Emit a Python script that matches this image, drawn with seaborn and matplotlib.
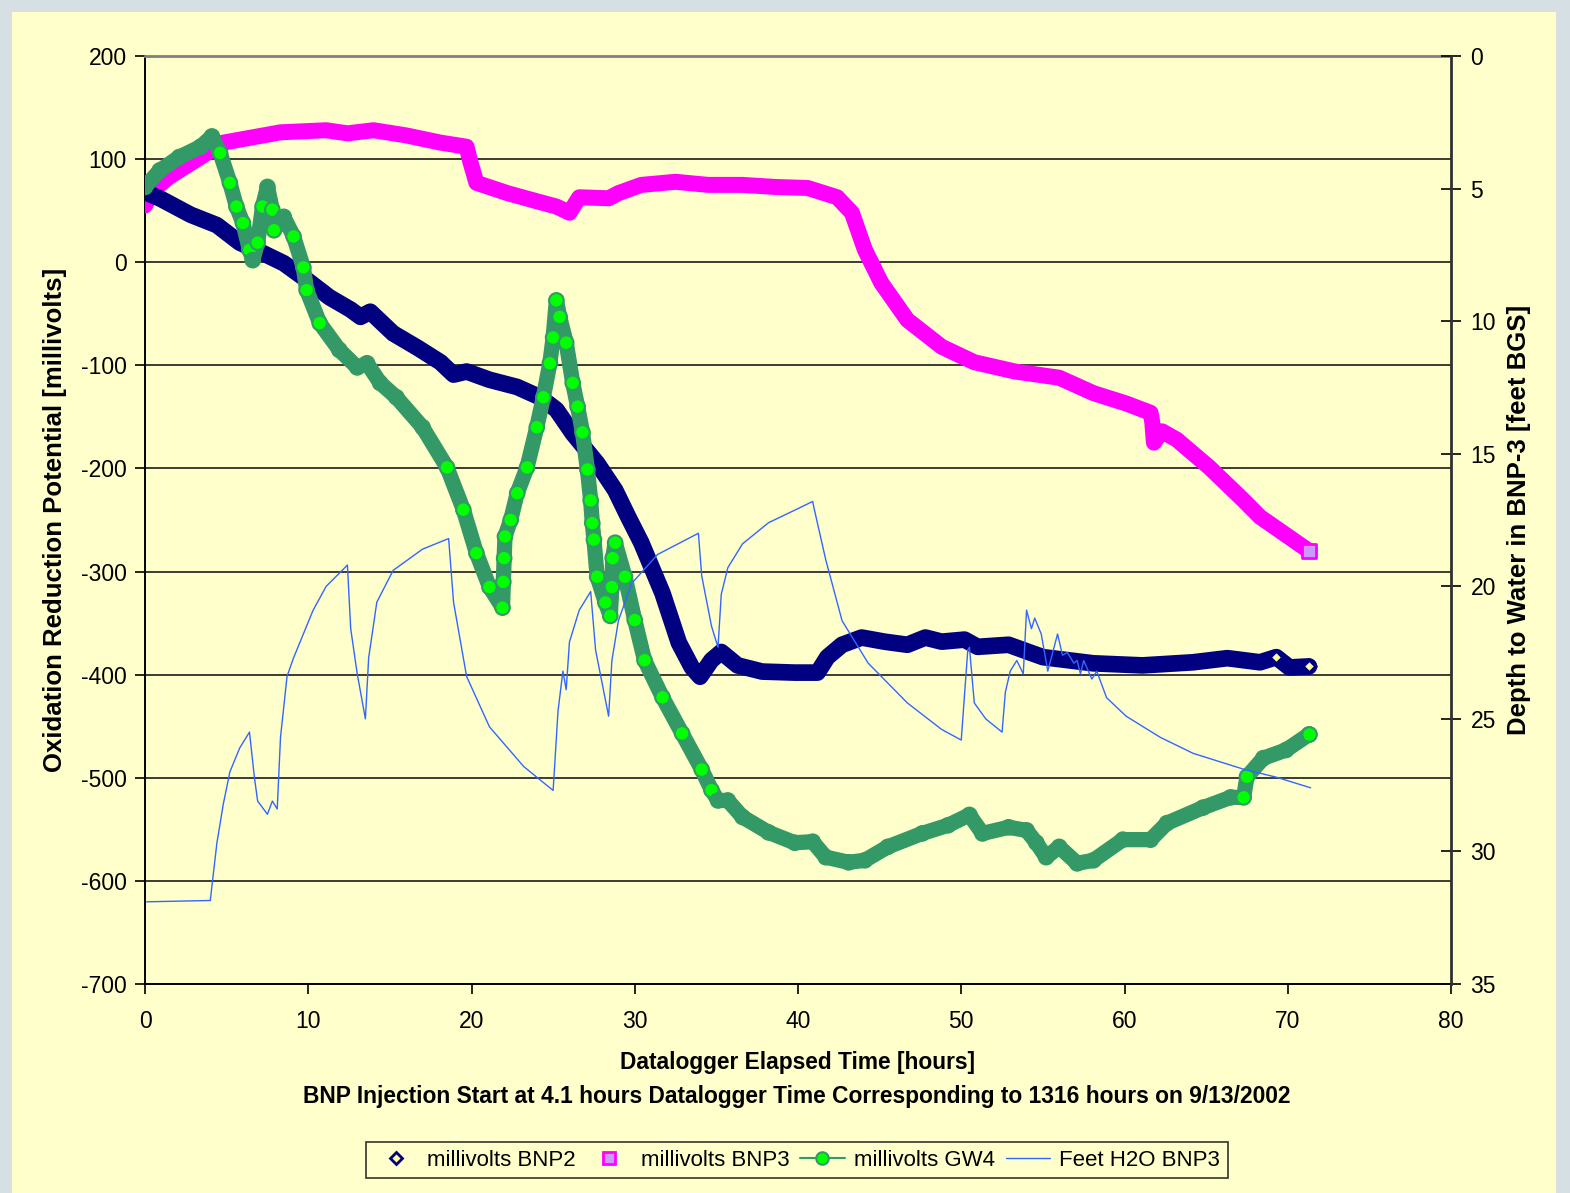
import numpy as np
import pandas as pd
import matplotlib
matplotlib.use("Agg")
import matplotlib.pyplot as plt
from matplotlib.lines import Line2D
from matplotlib.patches import Rectangle
import seaborn as sns

# ===============================
# Data
# ===============================
bnp2_hours = [0, 0.9, 2.8, 4.4, 5.8, 7.2, 8.5, 9.9, 11.3, 12.6, 13.2, 13.8, 15.2, 16.7,
              18.1, 18.9, 19.7, 21.1, 22.8, 24.2, 25.2, 26.2, 27.7, 28.8, 29.6, 30.4,
              31.7, 32.7, 33.5, 34.0, 34.7, 35.3, 36.3, 37.8, 39.8, 41.2, 41.8, 42.7,
              43.9, 45.3, 46.7, 47.8, 48.8, 50.2, 51.0, 52.9, 55.0, 58.1, 61.1, 64.2,
              66.3, 68.3, 69.3, 70.1, 71.3]
bnp2_mv = [68, 62, 46, 36, 19, 9, -1, -17, -34, -46, -53, -48, -69, -83,
           -97, -109, -106, -114, -121, -131, -143, -166, -195, -221, -247, -272,
           -321, -369, -393, -402, -386, -378, -391, -397, -398, -398, -383, -371,
           -364, -368, -371, -364, -368, -366, -373, -371, -383, -389, -391, -388,
           -384, -388, -383, -393, -392]

bnp3_hours = [0, 0.5, 1.5, 2.8, 3.8, 4.8, 6.2, 8.3, 11.1, 12.4, 14.0, 16.0, 18.1, 19.7,
              19.9, 20.3, 22.2, 23.8, 25.2, 26.0, 26.6, 28.4, 29.0, 30.4, 32.5, 34.5,
              36.6, 38.6, 40.6, 42.4, 43.3, 44.1, 45.1, 46.7, 48.8, 50.8, 53.3, 56.0,
              58.1, 60.1, 61.6, 61.7, 61.8, 62.3, 63.2, 65.2, 67.3, 68.3, 70.3, 71.3]
bnp3_mv = [55, 70, 83, 96, 106, 116, 120, 126, 128, 125, 128, 123, 116, 112,
           99, 77, 67, 60, 54, 48, 63, 62, 67, 75, 78, 75,
           75, 73, 72, 63, 48, 12, -20, -56, -82, -97, -106, -112,
           -127, -137, -146, -155, -175, -164, -172, -199, -231, -247, -269, -280]

gw4_hours = [0, 0.9, 2.1, 3.4, 4.1, 4.6, 5.2, 5.6, 6.0, 6.4, 6.6, 6.9, 7.2, 7.5, 7.8,
             7.9, 8.5, 9.1, 9.7, 9.9, 10.7, 11.9, 13.0, 13.6, 14.4, 15.4, 17.0, 18.5,
             19.5, 20.3, 21.1, 21.9, 21.95, 22.0, 22.05, 22.4, 22.8, 23.4, 24.0, 24.4,
             24.8, 25.0, 25.2, 25.4, 25.8, 26.2, 26.5, 26.8, 27.1, 27.3, 27.4, 27.5,
             27.7, 28.2, 28.5, 28.6, 28.65, 28.8, 29.4, 30.0, 30.6, 31.7, 32.9, 34.1,
             34.7, 35.1, 35.7, 36.6, 38.2, 39.8, 40.9, 41.7, 43.1, 44.1, 45.5, 47.6,
             49.2, 50.5, 51.3, 52.9, 54.0, 54.6, 55.2, 56.0, 57.1, 58.1, 59.9, 61.6,
             62.6, 64.8, 66.5, 67.3, 67.5, 68.5, 69.9, 71.3]
gw4_mv = [73, 89, 102, 112, 122, 106, 77, 54, 38, 12, 2, 19, 54, 73, 51,
          31, 44, 25, -5, -27, -59, -85, -102, -98, -117, -131, -160, -199,
          -240, -282, -315, -335, -310, -287, -266, -250, -224, -199, -160, -131,
          -98, -73, -37, -53, -78, -117, -140, -165, -201, -231, -253, -269,
          -305, -330, -343, -315, -287, -272, -305, -347, -386, -422, -457, -492,
          -512, -522, -522, -538, -553, -563, -562, -577, -582, -580, -567, -554,
          -546, -536, -554, -548, -551, -563, -577, -567, -583, -580, -560, -560,
          -544, -529, -519, -519, -499, -481, -473, -458]

h2o_hours = [0.1, 4.0, 4.4, 4.8, 5.2, 5.8, 6.4, 6.7, 6.9, 7.5, 7.8, 8.1, 8.3, 8.7, 9.1,
             10.3, 11.1, 12.4, 12.6, 13.0, 13.5, 13.7, 14.2, 15.2, 17.0, 18.6, 18.9,
             19.7, 21.1, 23.2, 25.0, 25.3, 25.6, 25.8, 26.0, 26.6, 27.3, 27.6, 28.4,
             28.6, 29.0, 29.8, 31.4, 33.9, 34.1, 34.7, 35.1, 35.3, 35.7, 36.6, 38.2,
             39.9, 40.9, 41.0, 41.7, 42.7, 44.3, 46.7, 48.8, 50.0, 50.4, 50.5, 50.8,
             51.5, 52.5, 52.7, 53.0, 53.4, 53.8, 54.0, 54.3, 54.5, 54.9, 55.3, 55.6,
             55.9, 56.2, 56.5, 56.9, 57.1, 57.3, 57.5, 58.0, 58.3, 58.9, 60.1, 62.2,
             64.2, 67.3, 69.3, 71.4]
h2o_feet = [31.9, 31.85, 29.7, 28.2, 27.0, 26.1, 25.5, 27.2, 28.1, 28.6, 28.1, 28.4,
            25.7, 23.4, 22.7, 20.9, 20.0, 19.2, 21.6, 23.3, 25.0, 22.7, 20.6, 19.4,
            18.6, 18.2, 20.6, 23.4, 25.3, 26.8, 27.7, 24.7, 23.2, 23.9, 22.1, 20.9,
            20.2, 22.4, 24.9, 22.8, 21.3, 19.9, 18.8, 18.0, 19.6, 21.5, 22.3, 20.3,
            19.3, 18.4, 17.6, 17.1, 16.8, 17.1, 19.0, 21.3, 22.9, 24.4, 25.4, 25.8,
            22.4, 22.3, 24.4, 25.0, 25.5, 24.0, 23.2, 22.8, 23.3, 20.9, 21.6, 21.2,
            21.8, 23.2, 22.5, 21.8, 22.6, 22.5, 22.9, 22.8, 23.3, 22.8, 23.5, 23.2,
            24.2, 24.9, 25.7, 26.3, 26.9, 27.2, 27.6]

x_ticks = [0, 10, 20, 30, 40, 50, 60, 70, 80]
mv_ticks = [200, 100, 0, -100, -200, -300, -400, -500, -600, -700]
feet_ticks = [0, 5, 10, 15, 20, 25, 30, 35]

# ===============================
# Style
# ===============================
YELLOW = "#FFFFCC"
FRAME = "#D5DFE4"
NAVY = "#000080"
DIAMOND_FACE = "#FFFF99"
MAGENTA = "#FF00FF"
LAVENDER = "#CC99FF"
GREEN = "#00FF00"
SEA = "#339966"
BLUE = "#3366FF"

sns.set_theme(style="white")
plt.rcParams.update({
    "font.family": ["Liberation Sans", "DejaVu Sans"],
    "axes.unicode_minus": False,
    "text.color": "black",
    "axes.labelcolor": "black",
    "xtick.color": "black",
    "ytick.color": "black",
})

fig = plt.figure(figsize=(15.7, 11.93), dpi=100, facecolor=FRAME)
fig.patches.append(Rectangle((12 / 1570, 0), 1544 / 1570, 1 - 12 / 1193,
                             transform=fig.transFigure, facecolor=YELLOW,
                             edgecolor="none", zorder=-5))

ax = fig.add_axes([145 / 1570, 1 - 984 / 1193, 1306 / 1570, 928 / 1193])
ax.set_facecolor(YELLOW)

bnp2 = pd.DataFrame({"hours": bnp2_hours, "mv": bnp2_mv})
bnp3 = pd.DataFrame({"hours": bnp3_hours, "mv": bnp3_mv})
gw4 = pd.DataFrame({"hours": gw4_hours, "mv": gw4_mv})
h2o = pd.DataFrame({"hours": h2o_hours, "feet": h2o_feet})

# where the logger trace moves fast the single GW4 dots stay visible,
# where it is slow they pile up into a dark band
rate = np.abs(np.gradient(gw4["mv"].to_numpy(), gw4["hours"].to_numpy()))
gw4["face"] = np.where(rate > 28, "fast", "slow")

band = dict(sort=False, estimator=None, legend=False,
            solid_capstyle="round", solid_joinstyle="round")
sns.lineplot(data=bnp3, x="hours", y="mv", ax=ax, color=MAGENTA, lw=11.5, zorder=3, **band)
sns.lineplot(data=bnp2, x="hours", y="mv", ax=ax, color=NAVY, lw=12, zorder=4, **band)
sns.lineplot(data=gw4, x="hours", y="mv", ax=ax, color=SEA, lw=11, zorder=5, **band)

sns.scatterplot(data=bnp3.iloc[[-1]], x="hours", y="mv", ax=ax, marker="s", s=90,
                color=LAVENDER, edgecolor=MAGENTA, linewidth=2, zorder=6, legend=False)
sns.scatterplot(data=bnp2.iloc[[-3, -1]], x="hours", y="mv", ax=ax, marker="D", s=45,
                color=DIAMOND_FACE, edgecolor=NAVY, linewidth=2.4, zorder=6, legend=False)
sns.scatterplot(data=gw4, x="hours", y="mv", hue="face", ax=ax, marker="o", s=110,
                palette={"fast": GREEN, "slow": SEA}, edgecolor=SEA, linewidth=1.5,
                zorder=7, legend=False)
sns.scatterplot(data=gw4.iloc[[-1]], x="hours", y="mv", ax=ax, marker="o", s=110,
                color=GREEN, edgecolor=SEA, linewidth=1.5, zorder=8, legend=False)

ax.set_xlim(0, 80)
ax.set_ylim(-700, 200)
ax.set_xticks(x_ticks)
ax.set_yticks(mv_ticks)
ax.yaxis.grid(True, color="#1A1A1A", lw=1.2)
ax.xaxis.grid(False)
ax.set_axisbelow(True)
ax.tick_params(axis="both", direction="out", length=7, width=1.2, colors="black",
               labelsize=16.5, left=True, bottom=True)
ax.tick_params(axis="x", pad=12)
ax.tick_params(axis="y", pad=6)
for side in ["left", "bottom"]:
    ax.spines[side].set_color("black")
    ax.spines[side].set_linewidth(1.4)
ax.spines["top"].set_color("#808080")
ax.spines["top"].set_linewidth(2)
ax.spines["right"].set_visible(False)
ax.set_xlabel("")
ax.set_ylabel("Oxidation Reduction Potential [millivolts]", fontsize=18.5,
              fontweight="bold", labelpad=10)

ax2 = ax.twinx()
sns.lineplot(data=h2o, x="hours", y="feet", ax=ax2, color=BLUE, lw=1.0,
             sort=False, estimator=None, legend=False)
ax2.set_ylim(35, 0)
ax2.set_yticks(feet_ticks)
ax2.grid(False)
ax2.tick_params(axis="y", direction="inout", length=14, width=1.2, colors="black",
                labelsize=16.5, right=True, pad=7)
for side in ["left", "bottom", "top"]:
    ax2.spines[side].set_visible(False)
ax2.spines["right"].set_color("#303030")
ax2.spines["right"].set_linewidth(2)
ax2.set_xlabel("")
ax2.set_ylabel("Depth to Water in BNP-3 [feet BGS]", fontsize=18.5,
               fontweight="bold", labelpad=8, rotation=90)

fig.text(797 / 1570, 1 - 1063 / 1193, "Datalogger Elapsed Time [hours]",
         ha="center", va="center", fontsize=16.4, fontweight="bold")
fig.text(797 / 1570, 1 - 1097 / 1193,
         "BNP Injection Start at 4.1 hours Datalogger Time Corresponding to 1316 hours on 9/13/2002",
         ha="center", va="center", fontsize=16.4, fontweight="bold")

handles = [
    Line2D([], [], ls="none", marker="D", ms=6, mfc=DIAMOND_FACE, mec=NAVY, mew=2),
    Line2D([], [], ls="none", marker="s", ms=9, mfc=LAVENDER, mec=MAGENTA, mew=2),
    Line2D([], [], color=SEA, lw=1.5, marker="o", ms=9, mfc=GREEN, mec=SEA, mew=1.5),
    Line2D([], [], color=BLUE, lw=1.0),
]
labels = ["millivolts BNP2", "millivolts BNP3", "millivolts GW4", "Feet H2O BNP3"]
leg = fig.legend(handles, labels, loc="center", bbox_to_anchor=(797 / 1570, 1 - 1160 / 1193),
                 ncol=4, fontsize=16, frameon=True, fancybox=False, handlelength=2.0,
                 columnspacing=0.5, handletextpad=0.4, borderpad=0.35)
leg.get_frame().set_facecolor(YELLOW)
leg.get_frame().set_edgecolor("black")
leg.get_frame().set_linewidth(1.2)

fig.savefig("out.png", dpi=100, facecolor=FRAME)
